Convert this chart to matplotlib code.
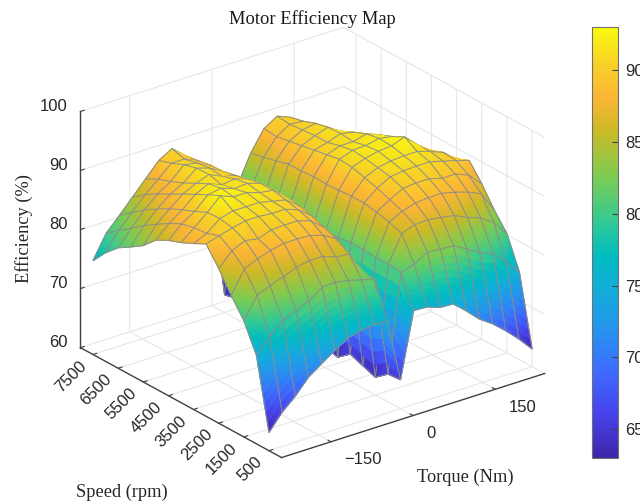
import matplotlib
matplotlib.use('Agg')
import matplotlib.pyplot as plt
import numpy as np
from matplotlib.colors import LinearSegmentedColormap, Normalize
from matplotlib.cm import ScalarMappable
from mpl_toolkits.mplot3d import proj3d
from mpl_toolkits.mplot3d.art3d import Poly3DCollection

torque = [-240, -216, -192, -168, -144, -120, -96, -72, -48, -24, 0,
          24, 48, 72, 96, 120, 144, 168, 192, 216, 240]
speed = [500, 1000, 1500, 2000, 2500, 3000, 3500, 4000,
         4500, 5000, 5500, 6000, 6500, 7000, 7500]

# one line per torque value, speed going 500 -> 7500
efficiency_cols = [
    [63.1, 75.0, 79.7, 82.8, 86.2, 89.2, 88.1, 87.1, 86.3, 85.2, 83.1, 81.7, 80.4, 78.4, 75.9],
    [65.8, 77.4, 83.3, 86.6, 88.5, 89.9, 89.1, 88.9, 88.4, 87.3, 86.0, 84.6, 83.0, 81.5, 79.8],
    [67.8, 79.5, 84.2, 87.6, 89.5, 90.5, 90.9, 90.8, 89.8, 88.9, 87.9, 86.7, 85.4, 83.8, 82.1],
    [70.3, 80.5, 85.0, 88.3, 89.1, 91.0, 91.5, 92.9, 91.9, 90.8, 89.7, 88.5, 87.4, 86.1, 84.5],
    [71.9, 81.4, 85.9, 88.8, 89.9, 91.0, 91.5, 92.0, 92.3, 91.9, 90.8, 89.7, 88.8, 88.0, 86.9],
    [73.4, 83.0, 86.3, 88.8, 90.0, 90.8, 91.5, 92.0, 91.5, 91.0, 91.6, 91.5, 90.9, 90.0, 89.3],
    [74.8, 83.1, 86.3, 88.7, 90.0, 90.8, 91.0, 91.3, 91.7, 91.3, 90.5, 90.8, 90.5, 90.0, 90.6],
    [75.4, 82.7, 85.5, 88.0, 89.3, 90.0, 90.5, 91.0, 91.0, 90.5, 90.0, 89.5, 89.3, 89.0, 88.7],
    [75.7, 82.1, 85.3, 86.7, 87.5, 88.3, 88.8, 89.0, 89.0, 88.9, 88.4, 87.8, 87.5, 87.5, 86.5],
    [75.6, 81.4, 81.5, 81.5, 81.6, 81.5, 81.3, 81.2, 81.0, 81.0, 81.0, 81.0, 81.0, 81.0, 80.8],
    [64.9, 64.7, 63.0, 63.8, 64.6, 62.9, 63.5, 64.0, 64.5, 64.0, 63.5, 64.0, 63.5, 63.5, 63.0],
    [75.9, 81.2, 81.5, 81.4, 81.6, 81.6, 81.3, 81.2, 81.0, 80.9, 81.0, 81.0, 80.8, 81.0, 80.9],
    [75.8, 81.9, 85.9, 86.7, 87.2, 87.6, 87.6, 87.4, 87.3, 87.4, 87.2, 87.2, 86.6, 86.0, 85.6],
    [75.0, 83.2, 86.7, 87.8, 88.6, 89.4, 90.0, 90.6, 90.8, 90.4, 90.0, 89.6, 89.2, 88.8, 89.0],
    [74.9, 83.0, 86.8, 88.5, 89.8, 90.6, 91.0, 91.4, 91.6, 91.2, 90.6, 90.6, 90.4, 90.2, 90.4],
    [73.0, 82.9, 86.5, 88.7, 90.0, 90.9, 91.4, 91.9, 91.7, 91.2, 91.4, 91.3, 90.8, 90.0, 89.5],
    [70.9, 81.6, 86.1, 88.7, 90.0, 91.0, 91.6, 92.1, 92.2, 91.8, 90.9, 89.8, 89.0, 88.0, 87.0],
    [69.4, 80.3, 85.1, 88.2, 89.4, 91.0, 91.6, 92.9, 91.8, 90.9, 89.7, 89.0, 87.5, 86.2, 84.5],
    [67.5, 79.4, 84.3, 87.5, 89.4, 90.4, 90.9, 90.8, 90.0, 89.0, 87.8, 86.8, 85.5, 83.9, 82.0],
    [65.4, 77.2, 82.8, 86.5, 88.5, 89.8, 90.0, 89.0, 88.5, 87.5, 86.0, 84.7, 83.2, 81.6, 79.6],
    [63.0, 74.8, 80.2, 83.0, 86.3, 89.1, 88.0, 87.2, 86.2, 85.3, 83.2, 81.7, 80.3, 78.4, 75.8],
]

torque_ticks = [-150, 0, 150]
speed_ticks = [500, 1500, 2500, 3500, 4500, 5500, 6500, 7500]
eff_ticks = [60, 70, 80, 90, 100]
cbar_ticks = [65, 70, 75, 80, 85, 90]

plt.rcParams['grid.color'] = '#e6e6e6'
plt.rcParams['grid.linewidth'] = 0.8

stops = [(0.0, (0.24, 0.15, 0.66)), (0.1, (0.28, 0.26, 0.92)), (0.2, (0.24, 0.42, 1.0)),
         (0.3, (0.15, 0.58, 0.93)), (0.4, (0.06, 0.69, 0.84)), (0.47, (0.0, 0.74, 0.75)),
         (0.55, (0.2, 0.79, 0.58)), (0.65, (0.48, 0.80, 0.33)), (0.76, (0.80, 0.73, 0.15)),
         (0.84, (0.99, 0.71, 0.21)), (0.92, (0.97, 0.83, 0.15)), (1.0, (0.98, 0.98, 0.06))]
cmap = LinearSegmentedColormap.from_list('eff', stops, N=256)
norm = Normalize(63, 93)

fig = plt.figure(figsize=(6.4, 5.03), dpi=100)
ax = fig.add_axes([45.5 / 640, -6.5 / 503, 520 / 640, 520 / 503], projection='3d', proj_type='ortho')
elev, azim = 24.7, -127.4
aspect = (1, 1, 0.785)
ax.view_init(elev=elev, azim=azim)
ax.set_box_aspect(aspect)

T = np.array(torque, dtype=float)
S = np.array(speed, dtype=float)
Z = np.array(efficiency_cols)  # T index first, S index second

# mesh lines are nudged towards the viewer so the painter sort keeps them on top
a, e = np.radians(azim), np.radians(elev)
nudge = 0.02 * np.array([np.cos(e) * np.cos(a) * 480, np.cos(e) * np.sin(a) * 8000, np.sin(e) * 40 / aspect[2]])

n = 8  # each cell is split for smooth colour, like interpolated shading
w = np.linspace(0, 1, n + 1)
verts, faces, edges = [], [], []
for i in range(len(T) - 1):
    for j in range(len(S) - 1):
        tt = T[i] + w * (T[i + 1] - T[i])
        ss = S[j] + w * (S[j + 1] - S[j])
        for p in range(n):
            for q in range(n):
                quad = []
                for u, v in [(p, q), (p + 1, q), (p + 1, q + 1), (p, q + 1)]:
                    z = ((1 - w[u]) * (1 - w[v]) * Z[i, j] + w[u] * (1 - w[v]) * Z[i + 1, j]
                         + w[u] * w[v] * Z[i + 1, j + 1] + (1 - w[u]) * w[v] * Z[i, j + 1])
                    quad.append((tt[u], ss[v], z))
                quad = np.array(quad)
                col = cmap(norm(quad[:, 2].mean()))
                verts.append(quad)
                faces.append(col)
                edges.append(col)

line_col = (0.55, 0.55, 0.55, 1)
for i in range(len(T)):
    for j in range(len(S) - 1):
        for p in range(n):
            verts.append(np.array([(T[i], S[j] + w[p] * 500, Z[i, j] + w[p] * (Z[i, j + 1] - Z[i, j])),
                                   (T[i], S[j] + w[p + 1] * 500, Z[i, j] + w[p + 1] * (Z[i, j + 1] - Z[i, j]))]) + nudge)
            faces.append((0, 0, 0, 0))
            edges.append(line_col)
for j in range(len(S)):
    for i in range(len(T) - 1):
        for p in range(n):
            verts.append(np.array([(T[i] + w[p] * 24, S[j], Z[i, j] + w[p] * (Z[i + 1, j] - Z[i, j])),
                                   (T[i] + w[p + 1] * 24, S[j], Z[i, j] + w[p + 1] * (Z[i + 1, j] - Z[i, j]))]) + nudge)
            faces.append((0, 0, 0, 0))
            edges.append(line_col)

surf = Poly3DCollection(verts, facecolors=faces, edgecolors=edges, linewidths=0.75, zsort='average')
ax.add_collection3d(surf)

ax.set_xlim(-240, 240, view_margin=0)
ax.set_ylim(0, 8000, view_margin=0)
ax.set_zlim(60, 100, view_margin=0)
ax.set_xticks(torque_ticks)
ax.set_yticks(speed_ticks)
ax.set_zticks(eff_ticks)
ax.set_xticklabels([])
ax.set_yticklabels([])
ax.set_zticklabels([])

sans = 'Liberation Sans'
serif = 'Liberation Serif'
for axis in (ax.xaxis, ax.yaxis, ax.zaxis):
    axis.set_pane_color((1, 1, 1, 0))
    axis.pane.set_edgecolor('none')
    axis.line.set_color('#404040')
    axis.line.set_linewidth(1.0)
    axis._axinfo['tick']['inward_factor'] = 0.0
    axis._axinfo['tick']['outward_factor'] = 0.18
ax.tick_params(colors='#404040', width=0.8)

# tick labels sit at the projected tick, with a pixel offset like the original
M = ax.get_proj()

def tick_label(x, y, z, text, dx, dy, **kw):
    px, py, _ = proj3d.proj_transform(x, y, z, M)
    ax.annotate(text, (px, py), xytext=(dx, dy), textcoords='offset pixels', family=sans,
                fontsize=12, color='#262626', annotation_clip=False, **kw)

for t in torque_ticks:
    tick_label(t, 0, 60, str(t).replace('-', '\u2212'), 13, -18, ha='left', va='center')
for s in speed_ticks:
    tick_label(-240, s, 60, str(s), -3.5, -3.5, ha='right', va='top', rotation=45)
for z in eff_ticks:
    tick_label(-240, 8000, z, str(z), -13, 5, ha='right', va='center')

fig.text(312 / 640, 1 - 19 / 503, 'Motor Efficiency Map', family=serif, fontsize=13.3, ha='center', va='center', color='#1a1a1a')
fig.text(24.5 / 640, 1 - 229 / 503, 'Efficiency (%)', family=serif, fontsize=13.2, rotation=90, ha='center', va='center', color='#262626')
fig.text(122 / 640, 1 - 492 / 503, 'Speed (rpm)', family=serif, fontsize=13.2, ha='center', va='center', color='#262626')
fig.text(465 / 640, 1 - 477 / 503, 'Torque (Nm)', family=serif, fontsize=13.2, ha='center', va='center', color='#262626')

cax = fig.add_axes([592 / 640, 1 - 458 / 503, 26 / 640, 431 / 503])
cb = fig.colorbar(ScalarMappable(norm=norm, cmap=cmap), cax=cax)
cb.set_ticks(cbar_ticks)
cb.ax.tick_params(direction='in', length=4, width=0.8, color='#404040', labelcolor='#262626', labelsize=12, pad=5)
for lab in cb.ax.get_yticklabels():
    lab.set_fontfamily(sans)
cb.outline.set_edgecolor('#707070')
cb.outline.set_linewidth(0.8)

fig.savefig('out.png', dpi=100)
